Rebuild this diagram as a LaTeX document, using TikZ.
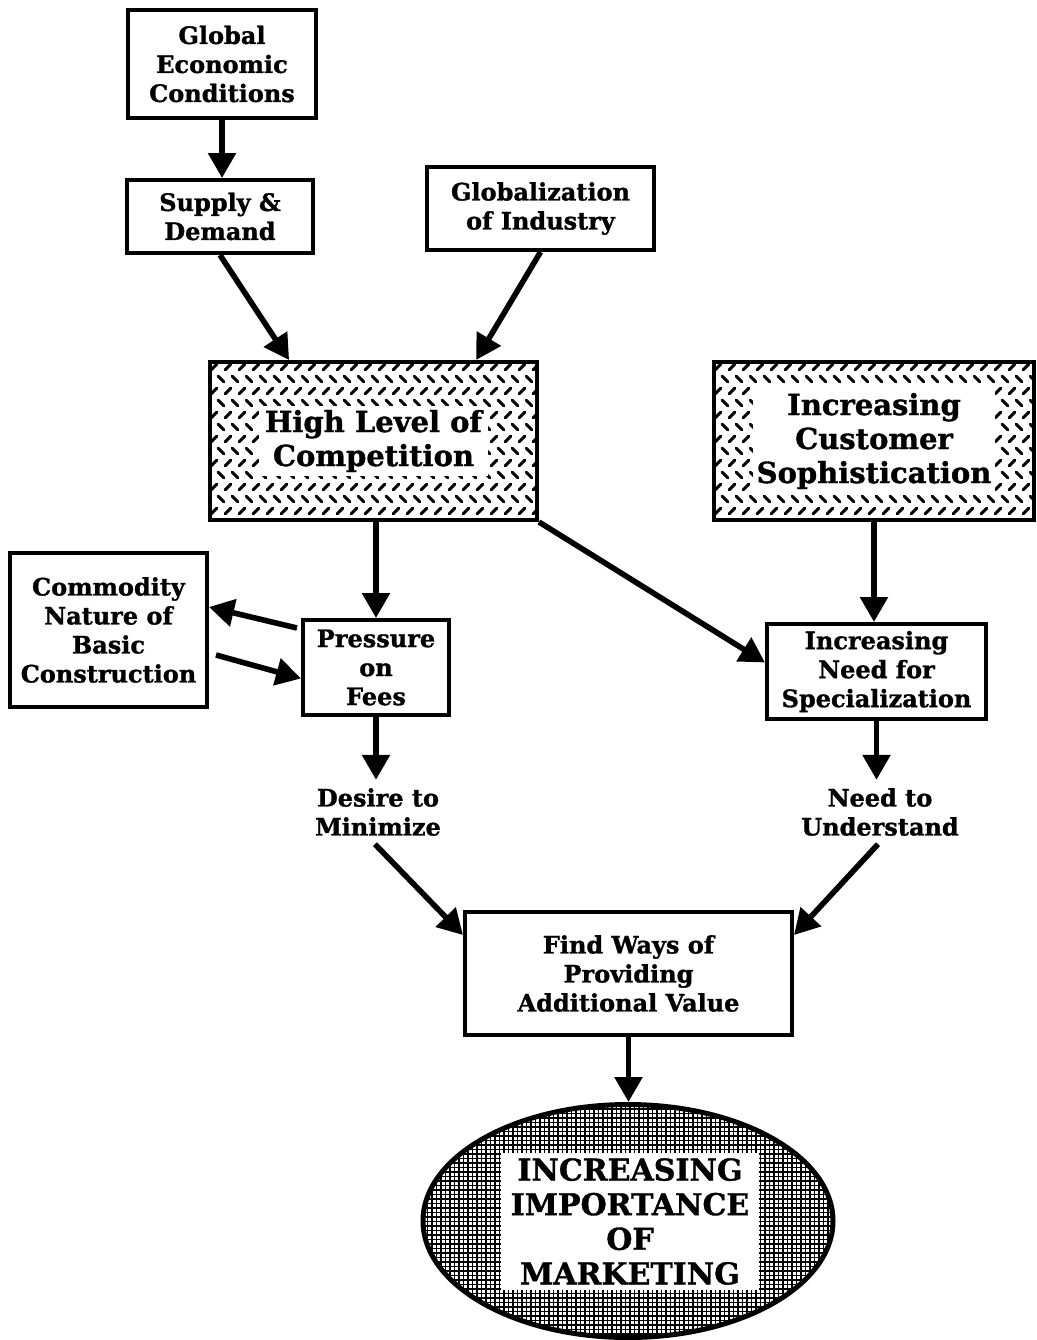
\documentclass[tikz,border=0pt]{standalone}
\usepackage{fontspec}
\setmainfont{DejaVu Serif}[BoldFeatures={FakeBold=1.2}]
\usetikzlibrary{arrows.meta,calc,shapes.geometric}
\newcommand\smallbold{\bfseries\fontsize{12}{14.5}\selectfont}
\newcommand\midbold{\bfseries\fontsize{14.5}{17}\selectfont}
\newcommand\capsbold{\bfseries\fontsize{15}{17.3}\selectfont}
\begin{document}
\begin{tikzpicture}[x=0.5pt,y=-0.5pt,
  box/.style={draw,line width=2pt,rectangle,align=center,inner sep=0pt,font=\smallbold},
  plain/.style={align=center,inner sep=4pt,font=\smallbold},
  conn/.style={line width=2.8pt,-{Triangle[length=12.5pt,width=13.5pt]}},
  plate/.style={path picture={
    \foreach \r in {0,...,14}{
      \foreach \c in {0,...,25}{
        \pgfmathsetmacro{\px}{\c*14+mod(\r,2)*7+4}
        \pgfmathsetmacro{\py}{\r*12+5}
        \ifodd\r
          \draw[line width=1.5pt,line cap=round] ($(path picture bounding box.north west)+(\px,\py)$) +(-2.9,-2.9) -- +(2.9,2.9);
        \else
          \draw[line width=1.5pt,line cap=round] ($(path picture bounding box.north west)+(\px,\py)$) +(-2.9,2.9) -- +(2.9,-2.9);
        \fi
      }}}},
  mesh/.style={path picture={
    \foreach \i in {0,...,92}{
      \draw[line width=0.55pt] ($(path picture bounding box.north west)+(\i*4.5,0)$) -- ++(0,240);}
    \foreach \j in {0,...,53}{
      \draw[line width=0.55pt] ($(path picture bounding box.north west)+(0,\j*4.5)$) -- ++(420,0);}
  }}]
\useasboundingbox (0,0) rectangle (1037,1340);
\fill[white] (0,0) rectangle (1037,1340);

% boxes
\node[box,minimum width=94pt,minimum height=54pt] (gec) at (222,64) {Global\\Economic\\Conditions};
\node[box,minimum width=93pt,minimum height=36.5pt] (sd) at (220,216.5) {Supply \&\\Demand};
\node[box,minimum width=113.5pt,minimum height=41.5pt] (goi) at (540.5,208.5) {Globalization\\of Industry};

\node[box,plate,minimum width=163.5pt,minimum height=79pt] (hlc) at (373.5,441) {};
\node[fill=white,align=center,inner xsep=3pt,inner ysep=2pt,font=\midbold] (hlct) at (hlc.center) {High Level of\\Competition};

\node[box,plate,minimum width=160pt,minimum height=79pt] (ics) at (874,441) {};
\node[fill=white,align=center,inner xsep=2pt,inner ysep=3pt,font=\midbold] (icst) at (ics.center) {Increasing\\Customer\\Sophistication};

\node[box,minimum width=98.5pt,minimum height=77pt] (cn) at (108.5,630) {Commodity\\Nature of\\Basic\\Construction};
\node[box,minimum width=73pt,minimum height=47.5pt] (pf) at (376,667.5) {Pressure\\on\\Fees};
\node[box,minimum width=109.5pt,minimum height=47.5pt] (ins) at (876.5,671.5) {Increasing\\Need for\\Specialization};

\node[plain] (dm) at (378,812) {Desire to\\Minimize};
\node[plain] (nu) at (880,812) {Need to\\Understand};

\node[box,minimum width=163.5pt,minimum height=61.5pt] (find) at (628.5,973.5) {Find Ways of\\Providing\\Additional Value};

\node[draw,ellipse,line width=2.5pt,mesh,minimum width=205pt,minimum height=116.5pt,inner sep=0pt] (ell) at (628,1221) {};
\node[fill=white,align=center,font=\capsbold,minimum width=129pt,minimum height=68.5pt,inner sep=0pt] (ellt) at (630,1221.5) {INCREASING\\IMPORTANCE\\OF\\MARKETING};

% connectors
\draw[conn] (gec.south) -- (gec.south |- sd.north);
\draw[conn] (sd.south) -- ($(hlc.north west)!0.245!(hlc.north east)$);
\draw[conn] (goi.south) -- ($(hlc.north west)!0.81!(hlc.north east)$);
\draw[conn] (pf.north |- hlc.south) -- (pf.north);
\draw[conn] (hlc.south east) -- ($(ins.west)+(0,-9)$);
\draw[conn] (ics.south) -- (ics.south |- ins.north);
\draw[conn] ($(pf.north west)+(-4,10)$) -- ($(cn.east)+(0,-23)$);
\draw[conn] ($(cn.east)+(7,25)$) -- ($(pf.west)+(0,11)$);
\draw[conn] (pf.south) -- (pf.south |- dm.north);
\draw[conn] (ins.south) -- (ins.south |- nu.north);
\draw[conn] ($(dm.south)+(-3,0)$) -- ($(find.north west)+(0,25)$);
\draw[conn] ($(nu.south)+(-2,0)$) -- ($(find.north east)+(0,25)$);
\draw[conn] (find.south) -- (find.south |- ell.north);
\end{tikzpicture}
\end{document}
